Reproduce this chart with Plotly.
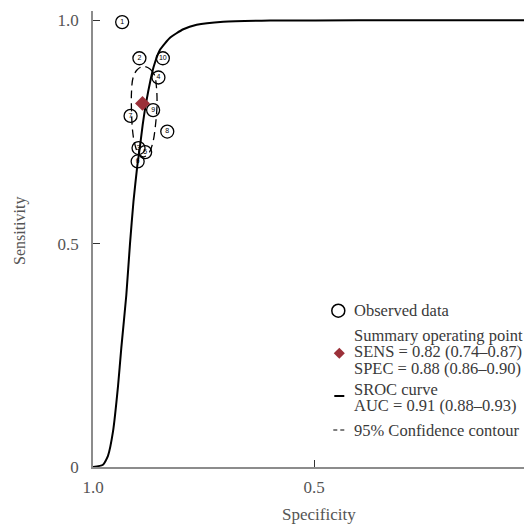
import plotly.graph_objects as go

# ---- data ----
study_ids = ['1', '2', '10', '4', '9', '7', '8', '3', '5', '6']
study_fpr = [0.066, 0.105, 0.158, 0.148, 0.136, 0.085, 0.168, 0.103, 0.118, 0.101]   # 1 - specificity
study_sens = [0.996, 0.915, 0.915, 0.872, 0.799, 0.786, 0.751, 0.714, 0.705, 0.684]

summary_fpr = [0.112]
summary_sens = [0.814]

sroc_fpr = [0.0, 0.0226, 0.0339, 0.0452, 0.0566, 0.0640, 0.0753, 0.0837, 0.0916, 0.1002,
            0.1063, 0.1124, 0.1199, 0.1305, 0.1369, 0.1516, 0.1742, 0.2043, 0.2346,
            0.2948, 0.4005, 0.6, 1.0]
sroc_sens = [0.0, 0.005, 0.025, 0.079, 0.181, 0.266, 0.384, 0.500, 0.595, 0.674,
             0.718, 0.766, 0.814, 0.868, 0.895, 0.934, 0.961, 0.980, 0.990,
             0.9966, 0.9993, 1.0, 1.0]

contour_fpr = [0.1131, 0.1290, 0.1391, 0.1437, 0.1448, 0.1414, 0.1357, 0.1267, 0.1131,
               0.1018, 0.0939, 0.0894, 0.0871, 0.0871, 0.0905, 0.0995, 0.1131]
contour_sens = [0.8966, 0.8910, 0.8776, 0.8485, 0.8104, 0.7656, 0.7276, 0.7029, 0.6940,
                0.7029, 0.7253, 0.7544, 0.7992, 0.8395, 0.8709, 0.8888, 0.8966]

x_tickvals = [0, 0.5, 1.0]
x_ticktext = ['1.0', '0.5', '0']
y_tickvals = [0, 0.5, 1.0]
y_ticktext = ['0', '0.5', '1.0']

legend_lines = [
    'Observed data',
    'Summary operating point',
    'SENS = 0.82 (0.74–0.87)',
    'SPEC = 0.88 (0.86–0.90)',
    'SROC curve',
    'AUC = 0.91 (0.88–0.93)',
    '95% Confidence contour',
]

# ---- geometry (page pixels of the reference; the page body has an 8px margin) ----
PAGE_W, PAGE_H, BODY = 532, 526, 8
W, H = PAGE_W - BODY, PAGE_H - BODY
X0_PAGE, Y0_PAGE, TOP_PAGE = 93, 467, 11     # plot left, plot bottom, plot top (page px)
PX_X = 442.0      # pixels per unit on x
PX_Y = 446.7      # pixels per unit on y

ML = X0_PAGE - BODY
MT = TOP_PAGE - BODY
MB = PAGE_H - Y0_PAGE


def fx(px):
    return (px - X0_PAGE) / PX_X


def fy(py):
    return (Y0_PAGE - py) / PX_Y


def paper_x(px):
    return (px - X0_PAGE) / (PAGE_W - X0_PAGE)


def paper_y(py):
    return (Y0_PAGE - py) / (Y0_PAGE - TOP_PAGE)


SERIF = 'Liberation Serif'
DIAMOND = '#9b3039'
TXT = '#555555'

fig = go.Figure()

fig.add_trace(go.Scatter(
    x=sroc_fpr, y=sroc_sens, mode='lines',
    line=dict(color='black', width=2, shape='spline', smoothing=0.5),
    hoverinfo='skip', showlegend=False))

fig.add_trace(go.Scatter(
    x=contour_fpr, y=contour_sens, mode='lines',
    line=dict(color='black', width=1.3, dash='8px,5px', shape='spline', smoothing=1.0),
    hoverinfo='skip', showlegend=False))

fig.add_trace(go.Scatter(
    x=study_fpr, y=study_sens, mode='markers+text', text=study_ids,
    textposition='middle center',
    textfont=dict(family='Liberation Sans', size=7, color='black'),
    marker=dict(symbol='circle-open', size=13, color='black', line=dict(width=1.3)),
    cliponaxis=False, showlegend=False))

fig.add_trace(go.Scatter(
    x=summary_fpr, y=summary_sens, mode='markers',
    marker=dict(symbol='diamond', size=11.5, color=DIAMOND),
    cliponaxis=False, showlegend=False))

# ---- custom legend ----
fig.add_trace(go.Scatter(
    x=[fx(338.3)], y=[fy(310.7)], mode='markers',
    marker=dict(symbol='circle-open', size=13, color='black', line=dict(width=1.5)),
    cliponaxis=False, showlegend=False, hoverinfo='skip'))
fig.add_trace(go.Scatter(
    x=[fx(339.3)], y=[fy(353.3)], mode='markers',
    marker=dict(symbol='diamond', size=8.5, color=DIAMOND),
    cliponaxis=False, showlegend=False, hoverinfo='skip'))
fig.add_shape(type='line', xref='x', yref='y',
              x0=fx(334.3), x1=fx(344.3), y0=fy(396), y1=fy(396),
              line=dict(color='black', width=2))
fig.add_shape(type='line', xref='x', yref='y',
              x0=fx(333.3), x1=fx(347), y0=fy(430), y1=fy(430),
              line=dict(color='black', width=1.2, dash='4px,3px'))

legend_y = [310.7, 335, 351, 368.3, 389.3, 405, 430]
for txt, py in zip(legend_lines, legend_y):
    fig.add_annotation(x=fx(351.7), y=fy(py), xref='x', yref='y', text=txt,
                       showarrow=False, xanchor='left', yanchor='middle',
                       font=dict(family=SERIF, size=16.5, color='#3a3a3a'))

# axis titles
fig.add_annotation(x=paper_x(319), y=paper_y(515), xref='paper', yref='paper', text='Specificity',
                   showarrow=False, xanchor='center', yanchor='middle',
                   font=dict(family=SERIF, size=17, color=TXT))
fig.add_annotation(x=paper_x(20), y=paper_y(231), xref='paper', yref='paper',
                   text='Sensitivity', textangle=-90,
                   showarrow=False, xanchor='center', yanchor='middle',
                   font=dict(family=SERIF, size=16, color=TXT))
# the partially visible '0' tick label at the right edge
fig.add_annotation(x=paper_x(535.3), y=paper_y(485), xref='paper', yref='paper',
                   text=x_ticktext[2], showarrow=False, xanchor='center', yanchor='middle',
                   font=dict(family=SERIF, size=17, color=TXT))

fig.update_layout(
    width=W, height=H,
    margin=dict(l=ML, r=0, t=MT, b=MB, autoexpand=False),
    paper_bgcolor='white', plot_bgcolor='white',
    showlegend=False,
    font=dict(family=SERIF, color=TXT),
    xaxis=dict(range=[0, (PAGE_W - X0_PAGE) / PX_X], tickvals=x_tickvals, ticktext=x_ticktext,
               showgrid=False, zeroline=False, showline=True, linecolor='#8c8c8c', linewidth=1.5,
               ticks='inside', ticklen=7, tickwidth=1, tickcolor='#333333',
               tickfont=dict(family=SERIF, size=17, color=TXT),
               ticklabelstandoff=4, automargin=False, fixedrange=True),
    yaxis=dict(range=[0, (Y0_PAGE - TOP_PAGE) / PX_Y], tickvals=y_tickvals, ticktext=y_ticktext,
               showgrid=False, zeroline=False, showline=True, linecolor='#8c8c8c', linewidth=1.5,
               ticks='inside', ticklen=7, tickwidth=1, tickcolor='#333333',
               tickfont=dict(family=SERIF, size=17, color=TXT),
               ticklabelstandoff=9, automargin=False, fixedrange=True),
)

fig.write_html('out.html')
